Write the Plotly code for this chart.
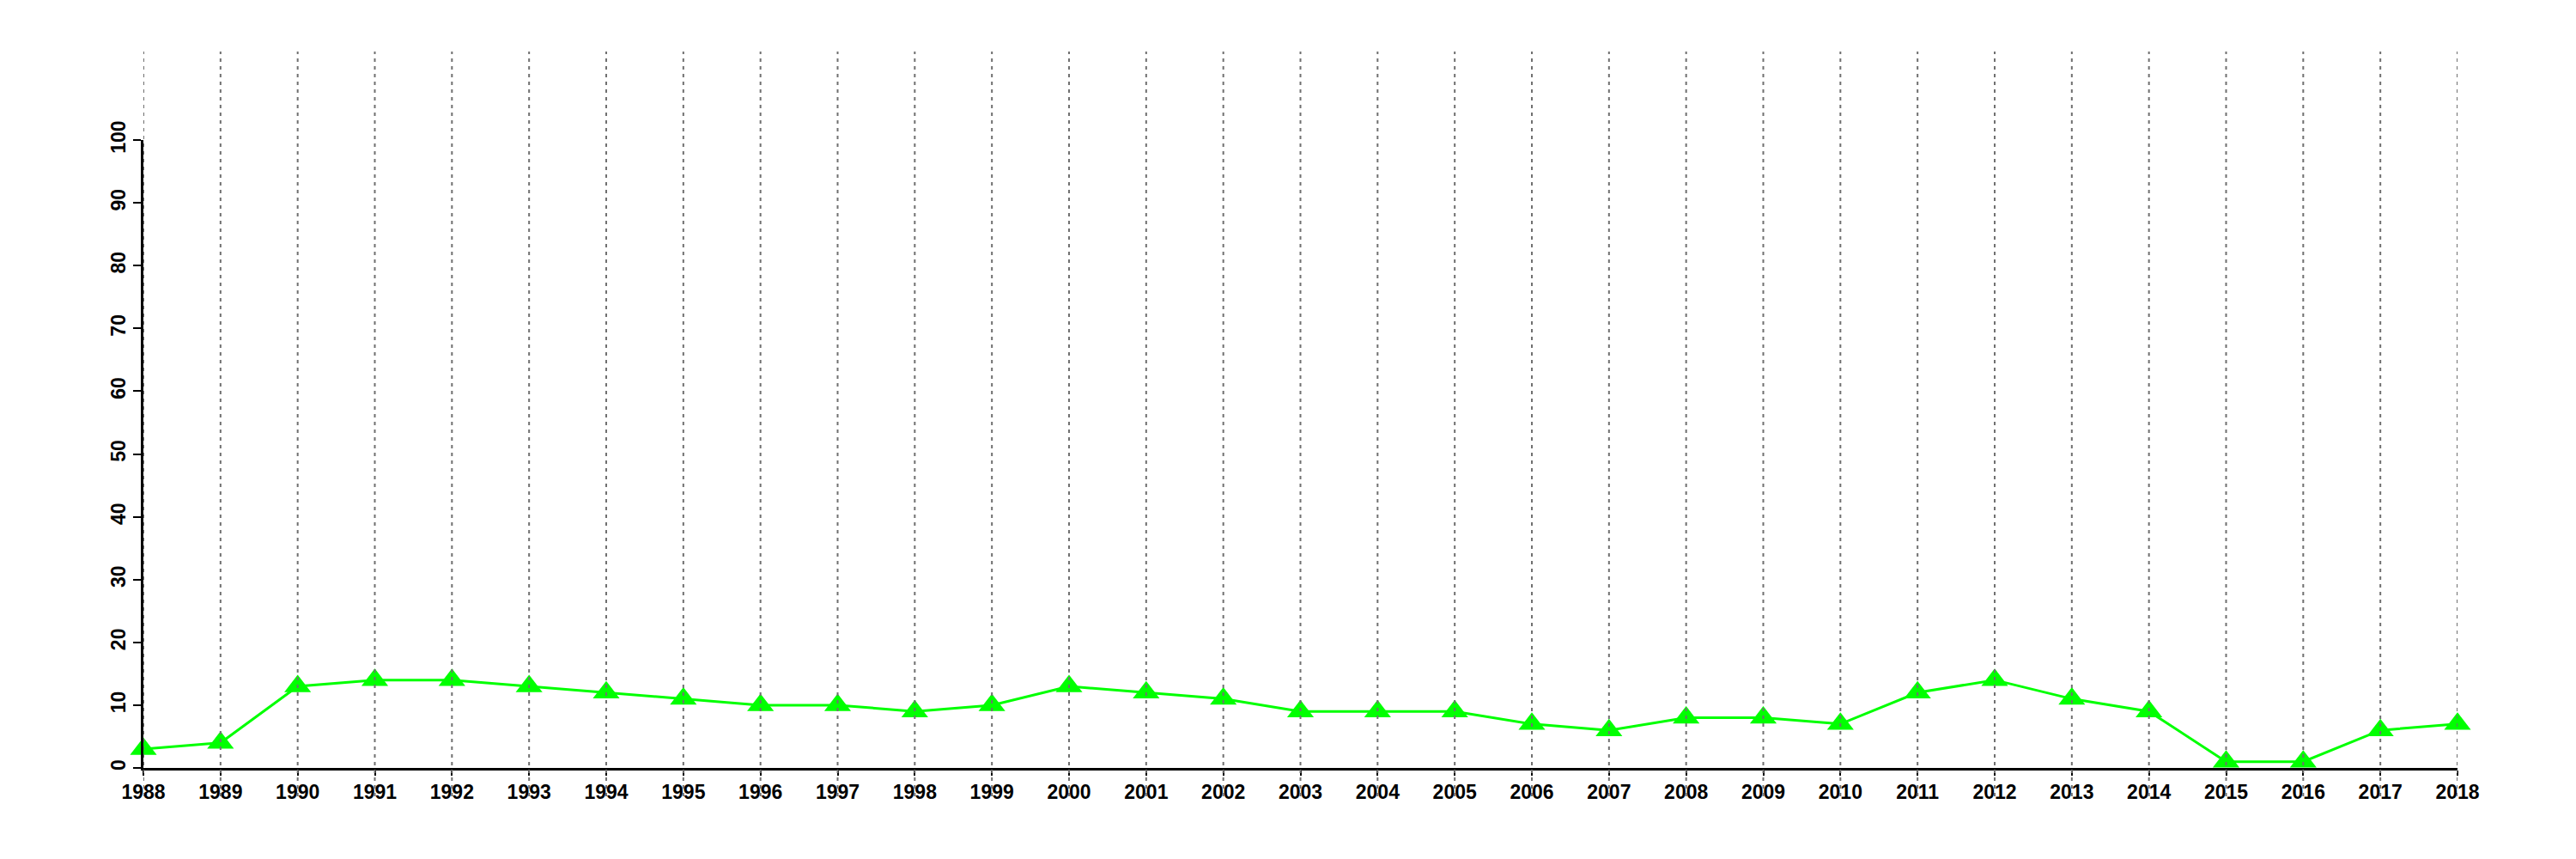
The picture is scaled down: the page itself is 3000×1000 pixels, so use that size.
import plotly.graph_objects as go

years = list(range(1988, 2019))
values = [3, 4, 13, 14, 14, 13, 12, 11, 10, 10, 9, 10, 13, 12, 11, 9, 9, 9, 7, 6,
          8, 8, 7, 12, 14, 11, 9, 1, 1, 6, 7]
y_ticks = [0, 10, 20, 30, 40, 50, 60, 70, 80, 90, 100]

fig = go.Figure()
fig.add_trace(go.Scatter(
    x=years, y=values, mode="lines+markers",
    line=dict(color="#00FF00", width=3),
    marker=dict(symbol="triangle-up", size=27, color="#00FF00"),
    cliponaxis=False, showlegend=False,
))

for yr in years:
    fig.add_shape(type="line", xref="x", yref="paper", x0=yr, x1=yr,
                  y0=-0.045, y1=1.141, layer="above",
                  line=dict(color="#707070", width=2, dash="4px,5px"))

font = dict(family="Liberation Sans, Arial, sans-serif", size=23, color="black", weight="bold")

fig.update_layout(
    width=3000, height=1000,
    margin=dict(l=159, r=146, t=155, b=114),
    paper_bgcolor="white", plot_bgcolor="white",
    xaxis=dict(range=[1988, 2018], tickmode="array", tickvals=years,
               ticktext=[str(y) for y in years], showgrid=False, zeroline=False,
               showline=True, linecolor="black", linewidth=2.5,
               ticks="outside", ticklen=6, tickwidth=2, tickcolor="black",
               tickfont=font),
    yaxis=dict(range=[0, 100], tickmode="array", tickvals=y_ticks,
               ticktext=[str(v) for v in y_ticks], showgrid=False, zeroline=False,
               showline=True, linecolor="black", linewidth=2.5,
               ticks="outside", ticklen=9, tickwidth=2, tickcolor="black",
               tickangle=-90, tickfont=font),
)

fig.write_html("out.html")
